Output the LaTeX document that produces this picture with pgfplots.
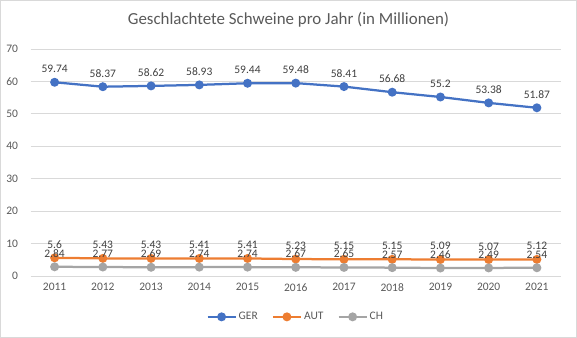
\documentclass[border=0pt]{standalone}
\usepackage{pgfplots}
\pgfplotsset{compat=1.18}
\usepackage{fontspec}
\setmainfont{Carlito}
\definecolor{ger}{HTML}{4472C4}
\definecolor{aut}{HTML}{ED7D31}
\definecolor{chc}{HTML}{A5A5A5}
\definecolor{txt}{HTML}{595959}
\definecolor{lbl}{HTML}{404040}
\definecolor{gridc}{HTML}{D9D9D9}
\begin{document}
\begin{tikzpicture}
\path[use as bounding box] (0,0) rectangle (577bp,338bp);
\draw[gridc, line width=0.75bp] (0.5bp,0.5bp) rectangle (576.5bp,337.5bp);
\node[text=txt, font=\fontsize{16.9bp}{20bp}\selectfont] at (288.5bp,318bp) {Geschlachtete Schweine pro Jahr (in Millionen)};
\begin{axis}[
  at={(30.5bp,62bp)}, anchor=south west,
  scale only axis, width=530.5bp, height=227bp,
  xmin=-0.5, xmax=10.5, ymin=0, ymax=70,
  xtick={0,1,2,3,4,5,6,7,8,9,10},
  xticklabels={2011,2012,2013,2014,2015,2016,2017,2018,2019,2020,2021},
  ytick={0,10,20,30,40,50,60,70},
  ymajorgrids, grid style={gridc, line width=0.75bp},
  axis line style={draw=none},
  major tick length=0pt,
  tick label style={text=txt, font=\fontsize{11.5bp}{13bp}\selectfont},
  xticklabel style={yshift=-4bp},
  yticklabel style={xshift=-9bp},
  /pgf/number format/assume math mode=true,
  nodes near coords,
  nodes near coords style={text=lbl, font=\fontsize{11.5bp}{13bp}\selectfont, yshift=5bp},
  legend style={at={(0.5,-0.18)}, anchor=center, legend columns=-1, draw=none, fill=none,
    font=\fontsize{11.5bp}{13bp}\selectfont, text=txt, inner sep=0pt,
    /tikz/every odd column/.append style={column sep=0bp},
    /tikz/every even column/.append style={column sep=12bp}},
  legend image code/.code={\draw[mark repeat=2,mark phase=2] plot coordinates {(0bp,0bp)(14bp,0bp)(28bp,0bp)};},
  every axis plot/.append style={line width=2.25bp, mark=*, mark size=3.3bp, mark options={solid}},
  clip=false,
]
\addplot[ger] coordinates {(0,59.74)(1,58.37)(2,58.62)(3,58.93)(4,59.44)(5,59.48)(6,58.41)(7,56.68)(8,55.2)(9,53.38)(10,51.87)};
\addlegendentry{GER}
\addplot[aut] coordinates {(0,5.6)(1,5.43)(2,5.43)(3,5.41)(4,5.41)(5,5.23)(6,5.15)(7,5.15)(8,5.09)(9,5.07)(10,5.12)};
\addlegendentry{AUT}
\addplot[chc] coordinates {(0,2.84)(1,2.77)(2,2.69)(3,2.74)(4,2.74)(5,2.67)(6,2.65)(7,2.57)(8,2.46)(9,2.49)(10,2.54)};
\addlegendentry{CH}
\end{axis}
\end{tikzpicture}
\end{document}
